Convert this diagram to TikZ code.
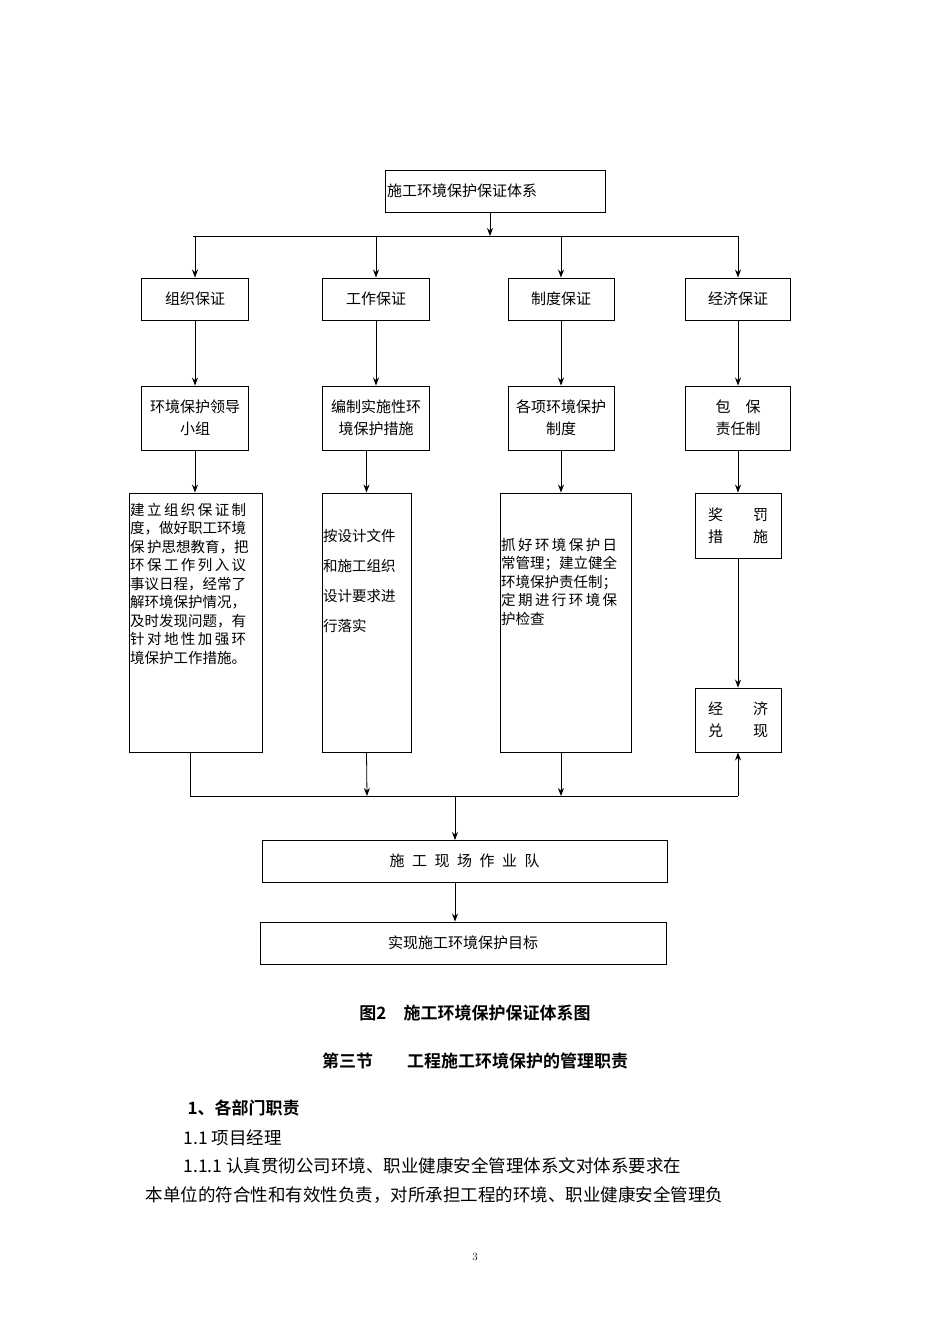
\documentclass[tikz,border=0pt]{standalone}
\usepackage{fontspec}
\newfontfamily\cjk{Noto Sans CJK SC}
\newfontfamily\cjkb{Noto Sans CJK SC Bold}
\usetikzlibrary{arrows.meta}
\begin{document}
\begin{tikzpicture}[x=1pt,y=-1pt,
 bx/.style={draw,line width=0.9pt,inner sep=0pt,font=\cjk\fontsize{15}{22}\selectfont,align=center},
 ar/.style={-{Stealth[length=8pt,width=6pt]},line width=0.8pt},
 ln/.style={line width=0.8pt},
 dense/.style={anchor=north west,inner sep=0pt,align=left,font=\cjk\fontsize{14.5}{18.5}\selectfont}]
\fill[white](0,0)rectangle(950,1344);
\node[bx,minimum width=220,minimum height=42,align=left,text width=216] (top) at (495,191) {施工环境保护保证体系};
\coordinate (hl) at (193,236); \coordinate (hr) at (738,236);
\draw[ln] (hl)--(hr);
\draw[ar] (top.south -| 490,0) -- (490,236);
\foreach \n/\x/\w/\t in {a/195/107/组织保证,b/376/107/工作保证,c/561/106/制度保证,d/738/105/经济保证}{
 \node[bx,minimum width=\w,minimum height=42] (r1\n) at (\x,299) {\t};
 \draw[ar] (\x,236) -- (r1\n.north);}
\node[bx,minimum width=107,minimum height=64] (r2a) at (195,418) {环境保护领导\\小组};
\node[bx,minimum width=107,minimum height=64] (r2b) at (376,418) {编制实施性环\\境保护措施};
\node[bx,minimum width=106,minimum height=64] (r2c) at (561,418) {各项环境保护\\制度};
\node[bx,minimum width=105,minimum height=64] (r2d) at (738,418) {包\quad 保\\责任制};
\foreach \n in {a,b,c,d}{\draw[ar] (r1\n.south) -- (r2\n.north);}
\node[bx,minimum width=133,minimum height=259] (r3a) at (195.5,622.5) {};
\node[dense] at (130,503) {建\,立\,组\,织\,保\,证\,制\\度，做好职工环境\\保\,护思想教育，把\\环\,保\,工\,作\,列\,入\,议\\事议日程，经常了\\解环境保护情况，\\及时发现问题，有\\针\,对\,地\,性\,加\,强\,环\\境保护工作措施。};
\node[bx,minimum width=89,minimum height=259] (r3b) at (366.5,622.5) {};
\node[anchor=north west,inner sep=0pt,align=left,font=\cjk\fontsize{14.5}{30}\selectfont] at (323,529) {按设计文件\\和施工组织\\设计要求进\\行落实};
\node[bx,minimum width=131,minimum height=259] (r3c) at (565.5,622.5) {};
\node[dense] at (501,538) {抓\,好\,环\,境\,保\,护\,日\\常管理；建立健全\\环境保护责任制；\\定\,期\,进\,行\,环\,境\,保\\护检查};
\node[bx,minimum width=86,minimum height=65] (r3d) at (738,525.5) {奖\qquad 罚\\措\qquad 施};
\node[bx,minimum width=86,minimum height=64] (r4d) at (738,720) {经\qquad 济\\兑\qquad 现};
\draw[ar] (r2a.south) -- (r3a.north -| r2a);
\draw[ar] (r2b.south -| r3b) -- (r3b.north);
\draw[ar] (r2c.south) -- (r2c.south |- r3c.north);
\draw[ar] (r2d.south) -- (r3d.north);
\draw[ar] (r3d.south) -- (r4d.north);
\coordinate (bl) at (190,796); \coordinate (br) at (738,796);
\draw[ln] (190,752) -- (bl) -- (br);
\draw[ar] (r3b.south) -- (367,796);
\draw[ar] (561,752) -- (561,796);
\draw[ar] (br) -- (r4d.south);
\node[bx,minimum width=405,minimum height=42] (f) at (464.5,861) {施\enspace 工\enspace 现\enspace 场\enspace 作\enspace 业\enspace 队};
\node[bx,minimum width=406,minimum height=42] (g) at (463,943) {实现施工环境保护目标};
\draw[ar] (455,796) -- (455,840);
\draw[ar] (f.south -| 455,0) -- (g.north -| 455,0);
\node[font=\cjkb\fontsize{17}{18}\selectfont] (cap) at (475,1013) {图2\quad 施工环境保护保证体系图};
\node[font=\cjkb\fontsize{17}{18}\selectfont] (sec) at (475,1061) {第三节\qquad 工程施工环境保护的管理职责};
\node[anchor=west,font=\cjkb\fontsize{17}{18}\selectfont] (h1) at (184,1108) {1、各部门职责};
\node[anchor=west,font=\cjk\fontsize{17.5}{18}\selectfont] (h2) at (180,1138) {1.1 项目经理};
\node[anchor=west,font=\cjk\fontsize{17.5}{18}\selectfont] (p1) at (180,1166) {1.1.1 认真贯彻公司环境、职业健康安全管理体系文对体系要求在};
\node[anchor=west,font=\cjk\fontsize{17.5}{18}\selectfont] (p2) at (142,1195) {本单位的符合性和有效性负责，对所承担工程的环境、职业健康安全管理负};
\node[font=\fontsize{11}{12}\selectfont] (pg) at (475,1257) {3};
\end{tikzpicture}
\end{document}
